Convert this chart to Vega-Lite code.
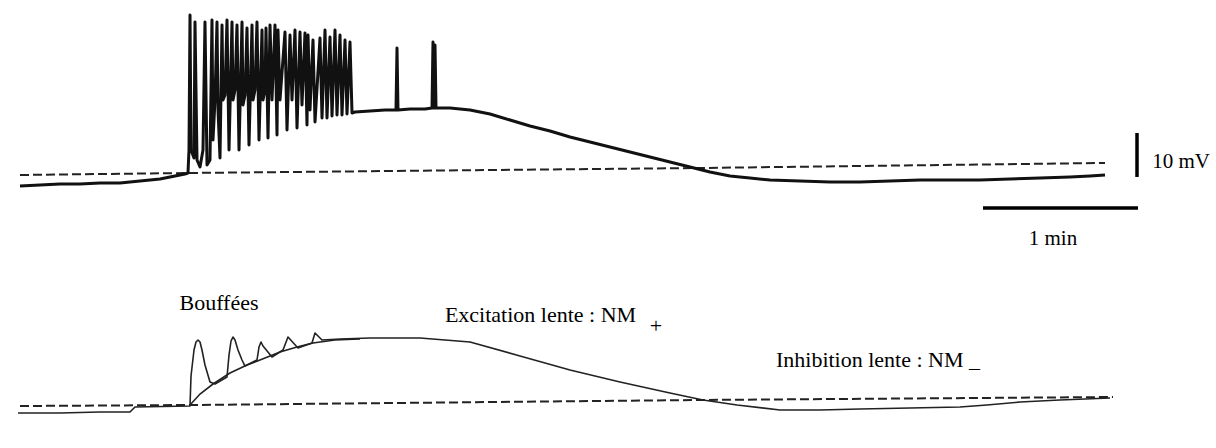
{
  "$schema": "https://vega.github.io/schema/vega-lite/v6.json",
  "width": 1216,
  "height": 448,
  "autosize": {"type": "fit", "contains": "padding"},
  "padding": 0,
  "background": "white",
  "config": {"view": {"stroke": null}, "text": {"font": "Liberation Serif", "color": "#000"}},
  "datasets": {
    "top": [
      {"t": 7.74, "v": -2.5}, {"t": 15.48, "v": -2.27}, {"t": 23.23, "v": -2.05}, {"t": 30.97, "v": -2.05},
      {"t": 38.71, "v": -1.82}, {"t": 46.45, "v": -1.82}, {"t": 54.19, "v": -1.36}, {"t": 61.94, "v": -0.91},
      {"t": 67.74, "v": -0.23}, {"t": 71.61, "v": 0.23}, {"t": 72.77, "v": 0.45}, {"t": 73.16, "v": 5.68},
      {"t": 73.55, "v": 36.36}, {"t": 73.94, "v": 5.68}, {"t": 75.10, "v": 3.86}, {"t": 75.48, "v": 34.77},
      {"t": 76.26, "v": 3.41}, {"t": 77.42, "v": 1.82}, {"t": 78.58, "v": 5.68}, {"t": 79.35, "v": 34.77},
      {"t": 80.13, "v": 2.27}, {"t": 81.29, "v": 3.41}, {"t": 82.06, "v": 35.23}, {"t": 82.45, "v": 7.95},
      {"t": 83.23, "v": 17.05}, {"t": 84.00, "v": 34.77}, {"t": 84.39, "v": 14.77}, {"t": 85.16, "v": 3.86},
      {"t": 85.94, "v": 34.09}, {"t": 86.32, "v": 17.05}, {"t": 87.10, "v": 18.18}, {"t": 87.87, "v": 35.23},
      {"t": 88.65, "v": 5.68}, {"t": 89.81, "v": 34.77}, {"t": 90.19, "v": 17.05}, {"t": 90.97, "v": 19.32},
      {"t": 91.74, "v": 34.09}, {"t": 92.52, "v": 5.68}, {"t": 93.68, "v": 34.77}, {"t": 94.06, "v": 15.91},
      {"t": 94.84, "v": 18.18}, {"t": 95.61, "v": 33.41}, {"t": 96.39, "v": 6.82}, {"t": 97.55, "v": 34.09},
      {"t": 97.94, "v": 17.05}, {"t": 98.71, "v": 19.32}, {"t": 99.48, "v": 34.77}, {"t": 100.26, "v": 7.95},
      {"t": 101.42, "v": 32.95}, {"t": 101.81, "v": 17.05}, {"t": 102.58, "v": 19.32}, {"t": 102.97, "v": 33.41},
      {"t": 103.74, "v": 8.41}, {"t": 104.52, "v": 34.09}, {"t": 105.29, "v": 17.05}, {"t": 106.45, "v": 34.09},
      {"t": 107.23, "v": 9.09}, {"t": 107.61, "v": 32.95}, {"t": 108.39, "v": 17.05}, {"t": 110.32, "v": 32.5},
      {"t": 111.10, "v": 10.23}, {"t": 112.26, "v": 31.82}, {"t": 113.03, "v": 17.05}, {"t": 114.19, "v": 32.95},
      {"t": 114.97, "v": 10.68}, {"t": 116.13, "v": 32.5}, {"t": 116.90, "v": 15.91}, {"t": 118.06, "v": 32.27},
      {"t": 118.84, "v": 11.36}, {"t": 119.23, "v": 31.82}, {"t": 120.00, "v": 14.77}, {"t": 121.16, "v": 30.68},
      {"t": 121.94, "v": 12.05}, {"t": 123.87, "v": 31.14}, {"t": 124.65, "v": 12.95}, {"t": 125.81, "v": 32.95},
      {"t": 126.58, "v": 12.95}, {"t": 127.74, "v": 31.36}, {"t": 128.52, "v": 13.41}, {"t": 129.68, "v": 32.95},
      {"t": 130.45, "v": 13.64}, {"t": 131.61, "v": 31.82}, {"t": 132.39, "v": 13.64}, {"t": 133.55, "v": 30.68},
      {"t": 134.32, "v": 13.86}, {"t": 135.48, "v": 30.23}, {"t": 136.26, "v": 14.09}, {"t": 137.42, "v": 14.32},
      {"t": 143.23, "v": 14.55}, {"t": 149.03, "v": 14.77}, {"t": 153.29, "v": 14.77}, {"t": 153.68, "v": 28.86},
      {"t": 154.06, "v": 14.77}, {"t": 158.71, "v": 15.0}, {"t": 164.52, "v": 15.0}, {"t": 167.23, "v": 15.23},
      {"t": 167.61, "v": 30.23}, {"t": 168.00, "v": 15.23}, {"t": 168.39, "v": 29.55}, {"t": 168.77, "v": 15.23},
      {"t": 174.19, "v": 15.23}, {"t": 181.94, "v": 14.77}, {"t": 189.68, "v": 13.86}, {"t": 197.42, "v": 12.5},
      {"t": 205.16, "v": 11.14}, {"t": 212.90, "v": 10.0}, {"t": 220.65, "v": 8.64}, {"t": 228.39, "v": 7.5},
      {"t": 236.13, "v": 6.36}, {"t": 243.87, "v": 5.23}, {"t": 251.61, "v": 4.09}, {"t": 259.35, "v": 2.95},
      {"t": 267.10, "v": 1.82}, {"t": 274.84, "v": 0.68}, {"t": 282.58, "v": -0.23}, {"t": 290.32, "v": -0.68},
      {"t": 298.06, "v": -1.14}, {"t": 309.68, "v": -1.36}, {"t": 321.29, "v": -1.59}, {"t": 332.90, "v": -1.59},
      {"t": 344.52, "v": -1.36}, {"t": 356.13, "v": -1.14}, {"t": 367.74, "v": -1.14}, {"t": 379.35, "v": -1.14},
      {"t": 390.97, "v": -0.91}, {"t": 402.58, "v": -0.68}, {"t": 414.19, "v": -0.45}, {"t": 421.94, "v": -0.23},
      {"t": 427.74, "v": 0}
    ],
    "topDash": [
      {"t": 7.74, "v": 0}, {"t": 72.77, "v": 0.45}, {"t": 270.97, "v": 1.59}, {"t": 427.74, "v": 2.73}
    ],
    "bars": [
      {"t": 440.13, "t2": 440.13, "v": 9.55, "v2": -0.45},
      {"t": 380.52, "t2": 440.52, "v": -7.5, "v2": -7.5}
    ],
    "topText": [
      {"t": 457.17, "v": 1.59, "label": "10 mV"},
      {"t": 407.61, "v": -15.91, "label": "1 min"}
    ],
    "bottom": [
      {"t": 6.97, "u": -1.82}, {"t": 23.23, "u": -1.82}, {"t": 38.71, "u": -1.59}, {"t": 50.32, "u": -1.59},
      {"t": 52.26, "u": -0.45}, {"t": 73.55, "u": -0.23}, {"t": 73.94, "u": 6.59}, {"t": 75.10, "u": 12.5},
      {"t": 75.87, "u": 14.32}, {"t": 76.65, "u": 14.77}, {"t": 77.42, "u": 14.32}, {"t": 78.19, "u": 12.5},
      {"t": 79.35, "u": 9.09}, {"t": 81.29, "u": 5.23}, {"t": 83.23, "u": 4.77}, {"t": 87.87, "u": 6.36},
      {"t": 88.65, "u": 11.36}, {"t": 89.42, "u": 14.55}, {"t": 90.19, "u": 15.45}, {"t": 90.97, "u": 14.77},
      {"t": 92.13, "u": 12.5}, {"t": 93.68, "u": 10.23}, {"t": 94.84, "u": 8.86}, {"t": 99.48, "u": 10.23},
      {"t": 100.26, "u": 13.18}, {"t": 101.03, "u": 14.32}, {"t": 101.81, "u": 13.41}, {"t": 105.29, "u": 10.91},
      {"t": 109.55, "u": 12.5}, {"t": 111.48, "u": 15.45}, {"t": 115.35, "u": 12.95}, {"t": 120.77, "u": 14.09},
      {"t": 121.94, "u": 16.36}, {"t": 124.65, "u": 14.77}, {"t": 131.61, "u": 15.0}, {"t": 143.23, "u": 15.23},
      {"t": 154.84, "u": 15.23}, {"t": 162.58, "u": 15.23}, {"t": 181.94, "u": 14.32}, {"t": 201.29, "u": 11.14},
      {"t": 220.65, "u": 7.95}, {"t": 240.0, "u": 5.23}, {"t": 259.35, "u": 2.73}, {"t": 272.13, "u": 1.14},
      {"t": 285.29, "u": 0}, {"t": 301.94, "u": -1.14}, {"t": 317.42, "u": -1.14}, {"t": 332.90, "u": -0.91},
      {"t": 371.61, "u": -0.45}, {"t": 382.06, "u": 0}, {"t": 394.84, "u": 0.68}, {"t": 410.32, "u": 1.14},
      {"t": 429.68, "u": 1.59}
    ],
    "envelope": [
      {"t": 73.55, "u": 0}, {"t": 77.42, "u": 2.5}, {"t": 82.45, "u": 4.77}, {"t": 89.03, "u": 7.27},
      {"t": 95.61, "u": 9.09}, {"t": 102.58, "u": 10.68}, {"t": 108.39, "u": 12.05}, {"t": 114.97, "u": 13.18},
      {"t": 121.16, "u": 14.09}, {"t": 129.68, "u": 14.77}, {"t": 139.35, "u": 15.0}
    ],
    "bottomDash": [
      {"t": 7.74, "u": -0.23}, {"t": 73.55, "u": 0}, {"t": 270.97, "u": 1.14}, {"t": 430.84, "u": 1.82}
    ],
    "bottomText": [
      {"t": 84.77, "u": 21.59, "label": "Bouffées"},
      {"t": 209.23, "u": 18.86, "label": "Excitation lente : NM"},
      {"t": 253.94, "u": 16.48, "label": "+"},
      {"t": 339.87, "u": 8.64, "label": "Inhibition lente : NM _"}
    ]
  },
  "layer": [
    {
      "layer": [
        {
          "data": {"name": "topDash"},
          "mark": {"type": "line", "color": "#222", "strokeWidth": 2, "strokeDash": [9, 4]},
          "encoding": {
            "x": {"field": "t", "type": "quantitative", "scale": {"domain": [0, 470.71], "nice": false, "zero": false}, "axis": null},
            "y": {"field": "v", "type": "quantitative", "scale": {"domain": [-62.05, 39.77], "nice": false, "zero": false}, "axis": null}
          }
        },
        {
          "data": {"name": "top"},
          "mark": {"type": "line", "color": "#111", "strokeWidth": 3, "strokeJoin": "round"},
          "encoding": {
            "x": {"field": "t", "type": "quantitative", "scale": {"domain": [0, 470.71], "nice": false, "zero": false}, "axis": null},
            "y": {"field": "v", "type": "quantitative", "scale": {"domain": [-62.05, 39.77], "nice": false, "zero": false}, "axis": null}
          }
        },
        {
          "data": {"name": "bars"},
          "mark": {"type": "rule", "color": "#000", "strokeWidth": 3.5},
          "encoding": {
            "x": {"field": "t", "type": "quantitative", "scale": {"domain": [0, 470.71], "nice": false, "zero": false}, "axis": null},
            "x2": {"field": "t2"},
            "y": {"field": "v", "type": "quantitative", "scale": {"domain": [-62.05, 39.77], "nice": false, "zero": false}, "axis": null},
            "y2": {"field": "v2"}
          }
        },
        {
          "data": {"name": "topText"},
          "mark": {"type": "text", "fontSize": 21, "align": "center", "baseline": "alphabetic"},
          "encoding": {
            "x": {"field": "t", "type": "quantitative", "scale": {"domain": [0, 470.71], "nice": false, "zero": false}, "axis": null},
            "y": {"field": "v", "type": "quantitative", "scale": {"domain": [-62.05, 39.77], "nice": false, "zero": false}, "axis": null},
            "text": {"field": "label"}
          }
        }
      ]
    },
    {
      "layer": [
        {
          "data": {"name": "bottomDash"},
          "mark": {"type": "line", "color": "#222", "strokeWidth": 2, "strokeDash": [9, 4]},
          "encoding": {
            "x": {"field": "t", "type": "quantitative", "scale": {"domain": [0, 470.71], "nice": false, "zero": false}, "axis": null},
            "y": {"field": "u", "type": "quantitative", "scale": {"domain": [-9.77, 92.05], "nice": false, "zero": false}, "axis": null}
          }
        },
        {
          "data": {"name": "envelope"},
          "mark": {"type": "line", "color": "#222", "strokeWidth": 1.6},
          "encoding": {
            "x": {"field": "t", "type": "quantitative", "scale": {"domain": [0, 470.71], "nice": false, "zero": false}, "axis": null},
            "y": {"field": "u", "type": "quantitative", "scale": {"domain": [-9.77, 92.05], "nice": false, "zero": false}, "axis": null}
          }
        },
        {
          "data": {"name": "bottom"},
          "mark": {"type": "line", "color": "#222", "strokeWidth": 1.6, "strokeJoin": "round"},
          "encoding": {
            "x": {"field": "t", "type": "quantitative", "scale": {"domain": [0, 470.71], "nice": false, "zero": false}, "axis": null},
            "y": {"field": "u", "type": "quantitative", "scale": {"domain": [-9.77, 92.05], "nice": false, "zero": false}, "axis": null}
          }
        },
        {
          "data": {"name": "bottomText"},
          "mark": {"type": "text", "fontSize": 22, "align": "center", "baseline": "alphabetic"},
          "encoding": {
            "x": {"field": "t", "type": "quantitative", "scale": {"domain": [0, 470.71], "nice": false, "zero": false}, "axis": null},
            "y": {"field": "u", "type": "quantitative", "scale": {"domain": [-9.77, 92.05], "nice": false, "zero": false}, "axis": null},
            "text": {"field": "label"}
          }
        }
      ]
    }
  ],
  "resolve": {"scale": {"y": "independent"}}
}
